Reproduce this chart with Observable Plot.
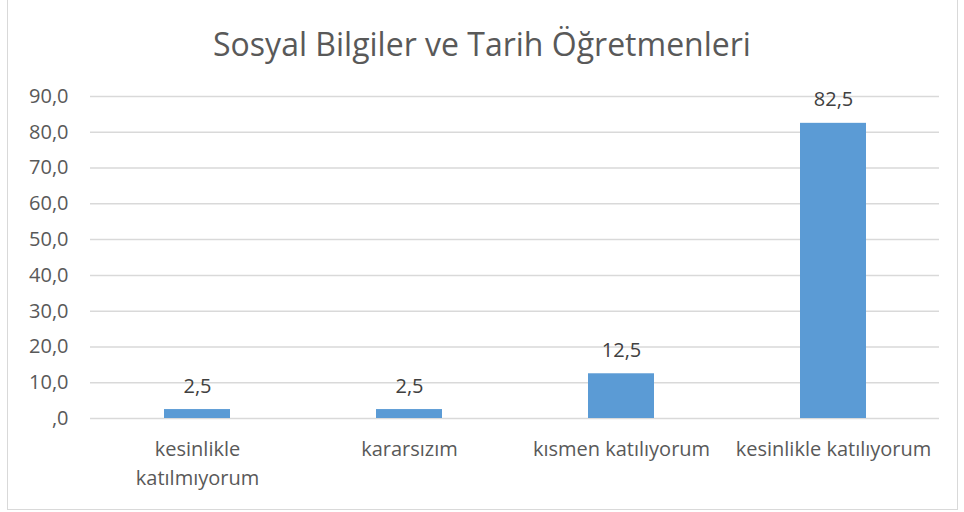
<!DOCTYPE html>
<html>
<head>
<meta charset="utf-8">
<script src="https://cdn.jsdelivr.net/npm/d3@7"></script>
<script src="https://cdn.jsdelivr.net/npm/@observablehq/plot@0.6"></script>
<style>
  html, body { margin: 0; padding: 0; background: #fff; }
  #wrap { position: relative; width: 964px; height: 512px; overflow: hidden; }
  #frame { position: absolute; left: 7px; top: -2px; width: 951px; height: 512px; border: 1px solid #d9d9d9; box-sizing: border-box; }
  #title { position: absolute; left: 7px; width: 950px; top: 22px; text-align: center; font-family: "Open Sans", sans-serif; font-size: 32px; line-height: 44px; color: #595959; white-space: nowrap; }
  #chart { position: absolute; left: 0; top: 0; }
</style>
</head>
<body>
<div id="wrap">
  <div id="frame"></div>
  <div id="title">Sosyal Bilgiler ve Tarih Öğretmenleri</div>
  <div id="chart"></div>
</div>
<script>
const categories = ["kesinlikle katılmıyorum", "kararsızım", "kısmen katılıyorum", "kesinlikle katılıyorum"];
const tickLabels = ["kesinlikle\nkatılmıyorum", "kararsızım", "kısmen katılıyorum", "kesinlikle katılıyorum"];
const values = [2.5, 2.5, 12.5, 82.5];
const valueLabels = ["2,5", "2,5", "12,5", "82,5"];
const yTicks = [0, 10, 20, 30, 40, 50, 60, 70, 80, 90];

const data = categories.map((c, i) => ({cat: c, v: values[i], lab: valueLabels[i]}));
const fmtY = d => d === 0 ? ",0" : d.toFixed(1).replace(".", ",");

const chart = Plot.plot({
  width: 964,
  height: 512,
  marginLeft: 90,
  marginRight: 25,
  marginTop: 96,
  marginBottom: 94,
  style: {fontFamily: "'Open Sans', sans-serif", fontSize: "20px", color: "#595959", background: "transparent"},
  x: {domain: categories, paddingInner: 0.69, paddingOuter: 0.345, label: null},
  y: {domain: [0, 90], label: null},
  marks: [
    Plot.gridY(yTicks, {stroke: "#d9d9d9", strokeOpacity: 1, strokeWidth: 1.5}),
    Plot.barY(data, {x: "cat", y: "v", fill: "#5b9bd5"}),
    Plot.text(data, {x: "cat", y: "v", text: "lab", dy: -17, lineAnchor: "bottom", fill: "#404040", fontSize: 20}),
    Plot.axisY({ticks: yTicks, tickFormat: fmtY, tickSize: 0, tickPadding: 22, fontSize: 20, fill: "#595959", label: null}),
    Plot.axisX({tickSize: 0, tickPadding: 17, tickFormat: d => tickLabels[categories.indexOf(d)], fontSize: 20, lineHeight: 1.45, fill: "#595959", label: null})
  ]
});
document.getElementById("chart").appendChild(chart);
</script>
</body>
</html>
